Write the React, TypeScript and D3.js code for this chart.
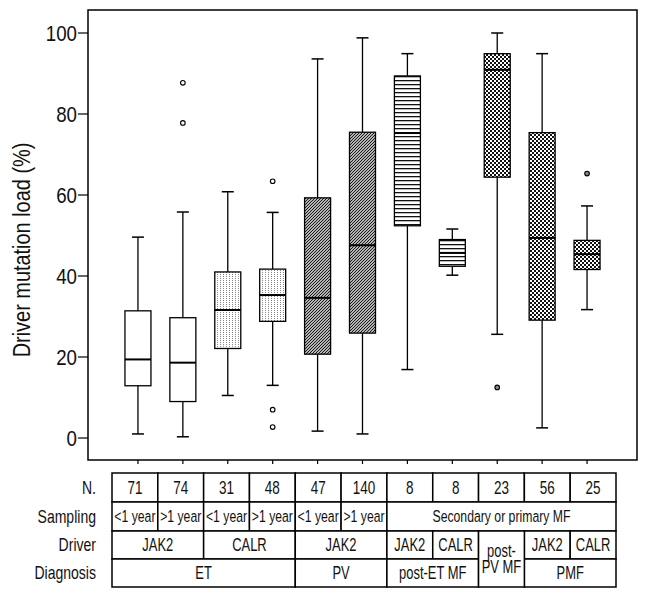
import React from "react";
import * as d3 from "d3";

const groups = ["g1", "g2", "g3", "g4", "g5", "g6", "g7", "g8", "g9", "g10", "g11"];
const whiskerLow = [1.0, 0.3, 10.5, 13.0, 1.7, 1.0, 16.9, 40.2, 25.6, 2.5, 31.7];
const q1 = [12.9, 9.0, 22.1, 28.8, 20.7, 25.9, 52.4, 42.4, 64.4, 29.1, 41.6];
const medians = [19.4, 18.6, 31.6, 35.3, 34.6, 47.6, 75.3, 45.7, 90.9, 49.4, 45.4];
const q3 = [31.4, 29.7, 41.0, 41.7, 59.3, 75.5, 89.4, 49.0, 94.9, 75.4, 48.8];
const whiskerHigh = [49.6, 55.8, 60.8, 55.7, 93.6, 98.8, 94.9, 51.6, 100, 94.9, 57.3];
const outliers: number[][] = [[], [87.7, 77.8], [], [63.4, 7.0, 2.7], [], [], [], [], [12.5], [], [65.3]];
const fills = ["white", "white", "dots", "dots", "diag", "diag", "horiz", "horiz", "check", "check", "check"];
const yTicks = [0, 20, 40, 60, 80, 100];

const nValues = ["71", "74", "31", "48", "47", "140", "8", "8", "23", "56", "25"];
const rowLabels = ["N.", "Sampling", "Driver", "Diagnosis"];
const samplingCells: [number, number, string][] = [
  [0, 1, "<1 year"], [1, 1, ">1 year"], [2, 1, "<1 year"], [3, 1, ">1 year"],
  [4, 1, "<1 year"], [5, 1, ">1 year"], [6, 5, "Secondary or primary MF"],
];
const driverCells: [number, number, string][] = [
  [0, 2, "JAK2"], [2, 2, "CALR"], [4, 2, "JAK2"], [6, 1, "JAK2"], [7, 1, "CALR"],
  [9, 1, "JAK2"], [10, 1, "CALR"],
];
const diagnosisCells: [number, number, string][] = [
  [0, 4, "ET"], [4, 2, "PV"], [6, 2, "post-ET MF"], [9, 2, "PMF"],
];
const mergedCell: [number, number, string[]] = [8, 1, ["post-", "PV MF"]];

const FONT = "'Liberation Sans', Arial, sans-serif";

function NText(props: { x: number; y: number; size: number; sx: number; anchor?: string; rotate?: number; children: React.ReactNode }) {
  const { x, y, size, sx, anchor = "middle", rotate = 0, children } = props;
  return (
    <text transform={`translate(${x},${y}) rotate(${rotate}) scale(${sx},1)`} textAnchor={anchor}
      dy="0.35em" fontSize={size} fontFamily={FONT} fill="#111">{children}</text>
  );
}

export default function App() {
  const W = 649, H = 595;
  const frame = { l: 88, t: 10, r: 637, b: 460 };
  const y = d3.scaleLinear().domain([0, 100]).range([438, 33]);
  const x = d3.scaleBand<string>().domain(groups).range([115.5, 609.5]).padding(0);
  const tx = d3.scaleBand<number>().domain(d3.range(11)).range([112, 616]).padding(0);
  const rowY = [473, 502, 531, 559, 587];
  const boxW = 26;
  const capW = 12;

  const fillOf = (f: string) => (f === "white" ? "white" : `url(#p-${f})`);

  const cell = (key: string, row: number, col: number, span: number, rowSpan: number, lines: string[], size = 18, sx = 0.72) => {
    const x0 = tx(col)!;
    const x1 = tx(col + span - 1)! + tx.bandwidth();
    const y0 = rowY[row];
    const y1 = rowY[row + rowSpan];
    const cx = (x0 + x1) / 2;
    const cy = (y0 + y1) / 2;
    const lh = 16;
    return (
      <g key={key}>
        <rect x={x0} y={y0} width={x1 - x0} height={y1 - y0} fill="white" stroke="black" strokeWidth={1.5} />
        {lines.map((t, i) => (
          <NText key={i} x={cx} y={cy + (i - (lines.length - 1) / 2) * lh} size={size} sx={sx}>{t}</NText>
        ))}
      </g>
    );
  };

  return (
    <svg width={W} height={H} style={{ position: "absolute", left: 0, top: 0, background: "white" }}>
      <defs>
        <pattern id="p-dots" width={3} height={2} patternUnits="userSpaceOnUse">
          <rect width={3} height={2} fill="white" />
          <rect x={1} y={0} width={1} height={1} fill="#888" />
        </pattern>
        <pattern id="p-diag" width={3} height={3} patternUnits="userSpaceOnUse">
          <rect width={3} height={3} fill="white" />
          <path d="M-1,1 L1,-1 M0,3 L3,0 M2,4 L4,2" stroke="#111" strokeWidth={1.2} />
        </pattern>
        <pattern id="p-horiz" width={4} height={4} patternUnits="userSpaceOnUse">
          <rect width={4} height={4} fill="white" />
          <rect x={0} y={0} width={4} height={1.3} fill="#111" />
        </pattern>
        <pattern id="p-check" width={4} height={4} patternUnits="userSpaceOnUse">
          <rect width={4} height={4} fill="white" />
          <rect x={0} y={0} width={2} height={2} fill="#111" />
          <rect x={2} y={2} width={2} height={2} fill="#111" />
        </pattern>
      </defs>

      {/* frame */}
      <rect x={frame.l} y={frame.t} width={frame.r - frame.l} height={frame.b - frame.t} fill="white" stroke="black" strokeWidth={1.5} />

      {/* y axis ticks */}
      {yTicks.map((t) => (
        <g key={t}>
          <line x1={frame.l - 10} x2={frame.l} y1={y(t)} y2={y(t)} stroke="black" strokeWidth={1.2} />
          <NText x={frame.l - 11} y={y(t)} size={22} sx={0.85} anchor="end">{t}</NText>
        </g>
      ))}
      <NText x={22} y={250} size={24} sx={0.83} rotate={-90}>Driver mutation load (%)</NText>

      {/* bottom ticks */}
      {groups.map((g) => {
        const cx = x(g)! + x.bandwidth() / 2;
        return <line key={g} x1={cx} x2={cx} y1={frame.b} y2={frame.b + 4} stroke="black" strokeWidth={1.2} />;
      })}

      {/* boxes */}
      {groups.map((g, i) => {
        const cx = x(g)! + x.bandwidth() / 2;
        return (
          <g key={g}>
            <line x1={cx} x2={cx} y1={y(whiskerHigh[i])} y2={y(q3[i])} stroke="black" strokeWidth={1.3} />
            <line x1={cx} x2={cx} y1={y(q1[i])} y2={y(whiskerLow[i])} stroke="black" strokeWidth={1.3} />
            <line x1={cx - capW / 2} x2={cx + capW / 2} y1={y(whiskerHigh[i])} y2={y(whiskerHigh[i])} stroke="black" strokeWidth={1.5} />
            <line x1={cx - capW / 2} x2={cx + capW / 2} y1={y(whiskerLow[i])} y2={y(whiskerLow[i])} stroke="black" strokeWidth={1.5} />
            <rect x={cx - boxW / 2} y={y(q3[i])} width={boxW} height={y(q1[i]) - y(q3[i])}
              fill={fillOf(fills[i])} stroke="black" strokeWidth={1.3} />
            <line x1={cx - boxW / 2} x2={cx + boxW / 2} y1={y(medians[i])} y2={y(medians[i])} stroke="black" strokeWidth={2} />
            {outliers[i].map((o, j) => (
              <circle key={j} cx={cx} cy={y(o)} r={2.3} fill={fills[i] === "check" ? "#888" : "white"} stroke="black" strokeWidth={1.1} />
            ))}
          </g>
        );
      })}

      {/* table */}
      {rowLabels.map((l, i) => (
        <NText key={l} x={96} y={(rowY[i] + rowY[i + 1]) / 2} size={18} sx={0.78} anchor="end">{l}</NText>
      ))}
      {nValues.map((n, i) => cell(`n${i}`, 0, i, 1, 1, [n], 18, 0.75))}
      {samplingCells.map(([c, s, t], i) => cell(`s${i}`, 1, c, s, 1, [t], 17, 0.72))}
      {driverCells.map(([c, s, t], i) => cell(`d${i}`, 2, c, s, 1, [t]))}
      {diagnosisCells.map(([c, s, t], i) => cell(`g${i}`, 3, c, s, 1, [t]))}
      {cell("merged", 2, mergedCell[0], mergedCell[1], 2, mergedCell[2])}
    </svg>
  );
}
